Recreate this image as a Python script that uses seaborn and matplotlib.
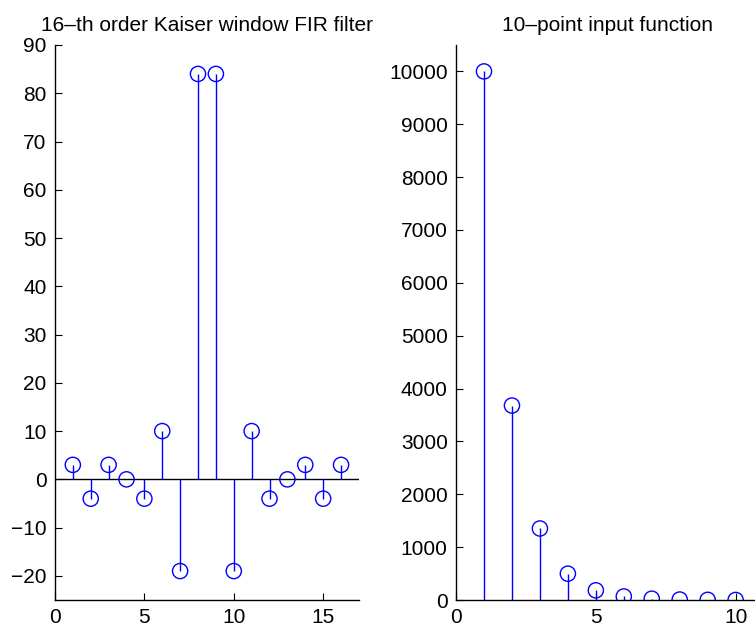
import numpy as np
import seaborn as sns
import matplotlib.pyplot as plt

# filter coefficients (16-th order Kaiser window FIR)
n_filt = list(range(1, 17))
h_filt = [3, -4, 3, 0, -4, 10, -19, 84, 84, -19, 10, -4, 0, 3, -4, 3]

# 10-point input function
n_in = list(range(1, 11))
x_in = [10000, 3679, 1353, 498, 183, 67, 25, 9, 3, 1]

sns.set_style('white')
plt.rcParams['font.family'] = ['Liberation Sans', 'DejaVu Sans']
plt.rcParams['font.size'] = 15
plt.rcParams['text.color'] = 'black'

fig = plt.figure(figsize=(7.55, 6.3), dpi=100)
ax1 = fig.add_axes([0.0728, 0.0476, 0.4026, 0.881])
ax2 = fig.add_axes([0.604, 0.0476, 0.40, 0.881])


def stem_plot(ax, n, v, baseline=True):
    ax.vlines(n, 0, v, color='blue', linewidth=1)
    sns.scatterplot(x=n, y=v, ax=ax, marker='o', s=120,
                    facecolor='none', edgecolor='blue', linewidth=1, zorder=3)
    if baseline:
        ax.axhline(0, color='black', linewidth=1, zorder=1)


stem_plot(ax1, n_filt, h_filt)
ax1.set_xlim(0, 17)
ax1.set_ylim(-25, 90)
ax1.set_xticks([0, 5, 10, 15])
ax1.set_yticks(np.arange(-20, 91, 10))
ax1.set_title('16–th order Kaiser window FIR filter', fontsize=15, pad=10, color='black')

stem_plot(ax2, n_in, x_in, baseline=False)
ax2.set_xlim(0, 10.8)
ax2.set_ylim(0, 10500)
ax2.set_xticks([0, 5, 10])
ax2.set_yticks(np.arange(0, 10001, 1000))
ax2.set_title('10–point input function', fontsize=15, pad=10, color='black')

for ax in (ax1, ax2):
    sns.despine(ax=ax)
    for s in ('left', 'bottom'):
        ax.spines[s].set_color('black')
        ax.spines[s].set_linewidth(1)
    ax.tick_params(direction='in', length=5, width=0.8, colors='black',
                   labelsize=15, left=True, bottom=True, pad=6)
    ax.set_xlabel('')
    ax.set_ylabel('')

fig.savefig('out.png', dpi=100)
